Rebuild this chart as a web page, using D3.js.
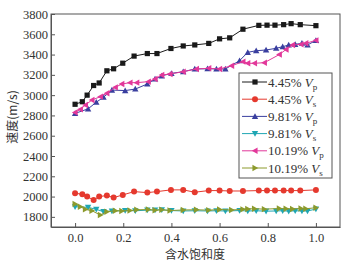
<!DOCTYPE html>
<html><head><meta charset="utf-8">
<script src="https://cdn.jsdelivr.net/npm/d3@7"></script>
<style>body{margin:0;background:#fff}svg{display:block}</style>
</head><body><svg id="c" width="357" height="262"></svg>
<script>
const xTicks=[0,0.2,0.4,0.6,0.8,1.0];
const yTicks=[1800,2000,2200,2400,2600,2800,3000,3200,3400,3600,3800];
const xA=[0,0.03,0.05,0.077,0.10,0.132,0.16,0.198,0.245,0.30,0.34,0.398,0.449,0.497,0.555,0.60,0.642,0.697,0.763,0.797,0.83,0.866,0.897,0.935,1.0];
const vp445=[2910,2935,3000,3095,3120,3240,3260,3315,3385,3410,3410,3460,3485,3495,3510,3555,3565,3650,3688,3690,3690,3695,3705,3695,3685];
const vs445=[2033,2023,2000,1966,2000,2010,1990,2016,2049,2039,2049,2066,2066,2043,2059,2059,2055,2055,2059,2059,2059,2059,2059,2059,2066];
const xB=[0,0.054,0.088,0.118,0.153,0.208,0.25,0.30,0.332,0.36,0.40,0.449,0.497,0.55,0.587,0.624,0.683,0.717,0.752,0.793,0.835,0.862,0.887,0.914,0.942,0.965,1.0];
const vp981=[2820,2865,2930,2980,3050,3045,3060,3110,3159,3190,3215,3231,3258,3260,3258,3258,3340,3422,3438,3445,3462,3478,3494,3501,3511,3494,3540];
const vs981=[1900,1894,1874,1851,1858,1862,1860,1866,1868,1870,1862,1858,1860,1858,1860,1858,1862,1858,1860,1856,1858,1860,1856,1860,1858,1858,1877];
const xC=[0,0.022,0.043,0.07,0.105,0.132,0.167,0.194,0.228,0.256,0.304,0.332,0.36,0.394,0.449,0.504,0.555,0.60,0.65,0.697,0.717,0.745,0.786,0.848,0.876,0.903,0.938,0.958,1.0];
const vp1019=[2830,2860,2903,2952,2985,3018,3077,3110,3123,3123,3133,3159,3199,3208,3231,3258,3265,3258,3290,3330,3314,3314,3320,3400,3450,3494,3501,3511,3540];
const vs1019=[1927,1900,1874,1860,1818,1851,1860,1858,1862,1870,1872,1865,1870,1862,1868,1870,1866,1872,1868,1874,1878,1880,1876,1882,1880,1878,1882,1880,1890];
const series=[
 {name:"4.45%",sub:"p",x:xA,y:vp445,color:"#1a1a1a",shape:"square"},
 {name:"4.45%",sub:"s",x:xA,y:vs445,color:"#e5392e",shape:"circle"},
 {name:"9.81%",sub:"p",x:xB,y:vp981,color:"#3a3f9f",shape:"up"},
 {name:"9.81%",sub:"s",x:xB,y:vs981,color:"#1fa6b3",shape:"down"},
 {name:"10.19%",sub:"p",x:xC,y:vp1019,color:"#e2389a",shape:"left"},
 {name:"10.19%",sub:"s",x:xC,y:vs1019,color:"#8c9a2c",shape:"right"}
];
const L=51,R=340,T=14,B=227;
const svg=d3.select("#c");
const x=d3.scaleLinear().domain([-0.1,1.1]).range([L,R]);
const y=d3.scaleLinear().domain([1700,3800]).range([B,T]);
const serif="'Liberation Serif','Times New Roman',serif";
const ax="#555";
svg.append("rect").attr("x",L).attr("y",T).attr("width",R-L).attr("height",B-T).attr("fill","none").attr("stroke",ax).attr("stroke-width",1);
const gx=svg.append("g").attr("transform",`translate(0,${B})`).call(d3.axisBottom(x).tickValues(xTicks).tickFormat(d3.format(".1f")).tickSizeInner(-4).tickSizeOuter(0).tickPadding(6));
const gy=svg.append("g").attr("transform",`translate(${L},0)`).call(d3.axisLeft(y).tickValues(yTicks).tickFormat(d3.format("d")).tickSizeInner(-4).tickSizeOuter(0).tickPadding(3));
[gx,gy].forEach(g=>{g.select(".domain").attr("stroke",ax);g.selectAll(".tick line").attr("stroke",ax);
 g.selectAll("text").attr("font-family",serif).attr("font-size",12.5).attr("fill","#333");});
svg.append("text").attr("x",195).attr("y",259).attr("text-anchor","middle").attr("font-family","'Noto Sans CJK SC',sans-serif").attr("font-size",12).attr("fill","#333").text("含水饱和度");
svg.append("text").attr("transform","translate(17,117) rotate(-90)").attr("text-anchor","middle").attr("font-family","'Noto Sans CJK SC',sans-serif").attr("font-size",12).attr("fill","#333").text("速度(m/s)");
function marker(g,shape,cx,cy,color){
 const s=3.2;let p;
 if(shape==="square"){g.append("rect").attr("x",cx-2.6).attr("y",cy-2.6).attr("width",5.2).attr("height",5.2).attr("fill",color);return;}
 if(shape==="circle"){g.append("circle").attr("cx",cx).attr("cy",cy).attr("r",3).attr("fill",color);return;}
 if(shape==="up")p=[[cx,cy-s],[cx-s,cy+s*0.8],[cx+s,cy+s*0.8]];
 if(shape==="down")p=[[cx,cy+s],[cx-s,cy-s*0.8],[cx+s,cy-s*0.8]];
 if(shape==="left")p=[[cx-s,cy],[cx+s*0.8,cy-s],[cx+s*0.8,cy+s]];
 if(shape==="right")p=[[cx+s,cy],[cx-s*0.8,cy-s],[cx-s*0.8,cy+s]];
 g.append("polygon").attr("points",p.map(q=>q.join(",")).join(" ")).attr("fill",color);
}
const line=d3.line().x(d=>x(d[0])).y(d=>y(d[1]));
series.forEach(s=>{
 const g=svg.append("g");
 const pts=s.x.map((v,i)=>[v,s.y[i]]);
 g.append("path").attr("d",line(pts)).attr("fill","none").attr("stroke",s.color).attr("stroke-width",1);
 pts.forEach(p=>marker(g,s.shape,x(p[0]),y(p[1]),s.color));
});
const lg=svg.append("g");
lg.append("rect").attr("x",239).attr("y",73).attr("width",93).attr("height",105).attr("fill","#fff").attr("stroke",ax).attr("stroke-width",1);
series.forEach((s,i)=>{
 const cy=82+i*17.2;
 lg.append("line").attr("x1",242).attr("x2",267).attr("y1",cy).attr("y2",cy).attr("stroke",s.color).attr("stroke-width",1);
 marker(lg,s.shape,255,cy,s.color);
 const t=lg.append("text").attr("x",268).attr("y",cy+4.5).attr("font-family",serif).attr("font-size",13).attr("fill","#333");
 t.append("tspan").text(s.name+" ");
 t.append("tspan").attr("font-style","italic").text("V");
 t.append("tspan").attr("font-size",9).attr("dy",3).text(s.sub);
});
</script></body></html>
